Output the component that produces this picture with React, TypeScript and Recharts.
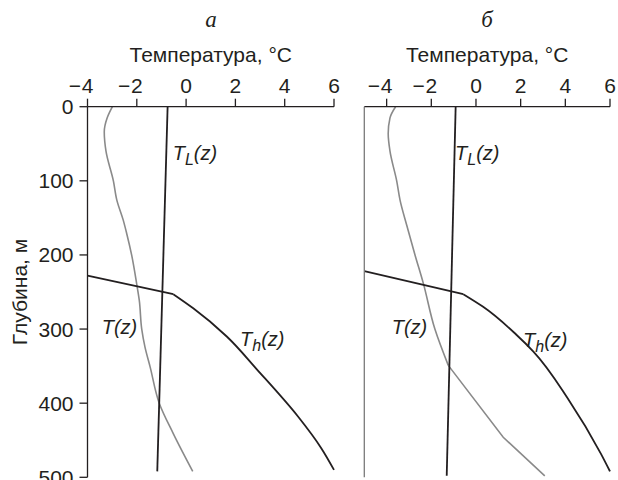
import { LineChart, Line, XAxis, YAxis } from "recharts"

// depth (m) is on the vertical axis, temperature (°C) on the top axis
const depthTicks = [0, 100, 200, 300, 400, 500]
const tempTicks = [-4, -2, 0, 2, 4, 6]

// panel а
const aLDepth = [0, 492]
const aLTemp = [-0.75, -1.17]
const aTDepth = [0, 15, 34, 60, 100, 126, 153, 171, 200, 240, 261, 300, 324, 351, 400, 441, 492]
const aTTemp = [-2.99, -3.2, -3.32, -3.25, -2.95, -2.81, -2.55, -2.41, -2.21, -2.0, -1.9, -1.8, -1.67, -1.46, -1.09, -0.52, 0.27]
const aH1Depth = [228, 253]
const aH1Temp = [-4, -0.52]
const aH2Depth = [253, 272, 310, 354, 418, 461, 490]
const aH2Temp = [-0.52, 0.29, 1.65, 2.86, 4.54, 5.49, 6.0]

// panel б
const bLDepth = [0, 498]
const bLTemp = [-0.91, -1.31]
const bT1Depth = [0, 15, 36, 60, 100, 126, 160, 200, 238, 300, 349]
const bT1Temp = [-3.6, -3.85, -3.93, -3.85, -3.55, -3.4, -3.1, -2.73, -2.36, -1.84, -1.24]
const bT2Depth = [349, 446, 498]
const bT2Temp = [-1.24, 1.22, 3.08]
const bH1Depth = [222, 253]
const bH1Temp = [-5, -0.57]
const bH2Depth = [253, 270, 308, 330, 396, 468, 492]
const bH2Temp = [-0.57, 0.32, 1.82, 2.56, 4.16, 5.59, 6.0]

const zip = (d: number[], t: number[]) => d.map((depth, i) => ({ depth, t: t[i] }))

const FONT = "'Liberation Sans', Arial, sans-serif"
const INK = "#231f20"
const GRAY = "#8a8a8a"
const tickStyle = { fill: INK, fontSize: 21, fontFamily: FONT }

// digit sits centred on the tick, the minus hangs to the left of it
function TempTick({ x, y, payload }: any) {
  const v = payload.value as number
  return (
    <g fill={INK} fontSize={21} fontFamily={FONT}>
      <text x={x} y={y} textAnchor="middle">{Math.abs(v)}</text>
      {v < 0 && (
        <text x={x - 6.5} y={y} textAnchor="end">{"\u2212"}</text>
      )}
    </g>
  )
}

function Curve({ data, color, kind = "monotone" }: any) {
  return (
    <Line
      data={data}
      dataKey="t"
      type={kind}
      stroke={color}
      strokeWidth={color === GRAY ? 1.6 : 1.8}
      dot={false}
      activeDot={false}
      isAnimationActive={false}
    />
  )
}

export default function App() {
  const xLabel = {
    value: "Температура, °С",
    position: "insideTop" as const,
    offset: 47,
    fill: INK,
    fontSize: 21,
    fontFamily: FONT,
  }

  return (
    <div style={{ position: "absolute", left: 0, top: 0, width: 618, height: 480, background: "#fff" }}>
      <div style={{ position: "absolute", left: 0, top: 0 }}>
        <LineChart
          layout="vertical"
          width={346}
          height={480}
          margin={{ top: 0, right: 12, bottom: 2.7, left: 0 }}
        >
          <XAxis
            type="number"
            orientation="top"
            domain={[-4, 6]}
            ticks={tempTicks}
            interval={0}
            height={106.7}
            tickSize={8}
            tickMargin={6}
            stroke={INK}
            strokeWidth={1.3}
            tick={<TempTick />}
            label={xLabel}
          />
          <YAxis
            type="number"
            dataKey="depth"
            domain={[0, 500]}
            ticks={depthTicks}
            interval={0}
            width={87.5}
            tickSize={8}
            tickMargin={6}
            stroke={INK}
            strokeWidth={1.3}
            tick={tickStyle}
            label={{
              value: "Глубина, м",
              angle: -90,
              position: "center",
              dx: -24.3,
              fill: INK,
              fontSize: 21,
              fontFamily: FONT,
            }}
          />
          <Curve data={zip(aTDepth, aTTemp)} color={GRAY} />
          <Curve data={zip(aLDepth, aLTemp)} color={INK} kind="linear" />
          <Curve data={zip(aH1Depth, aH1Temp)} color={INK} kind="linear" />
          <Curve data={zip(aH2Depth, aH2Temp)} color={INK} />
        </LineChart>
      </div>

      <div style={{ position: "absolute", left: 346, top: 0 }}>
        <LineChart
          layout="vertical"
          width={272}
          height={480}
          margin={{ top: 0, right: 8, bottom: 2.7, left: 0 }}
        >
          <XAxis
            type="number"
            orientation="top"
            domain={[-5, 6]}
            ticks={tempTicks}
            interval={0}
            height={106.7}
            tickSize={8}
            tickMargin={6}
            stroke={INK}
            strokeWidth={1.3}
            tick={<TempTick />}
            label={xLabel}
          />
          <YAxis
            type="number"
            dataKey="depth"
            domain={[0, 500]}
            ticks={depthTicks}
            interval={0}
            width={18.3}
            tickSize={8}
            tick={false}
            stroke="#7a7a7a"
            strokeWidth={1.3}
          />
          <Curve data={zip(bT1Depth, bT1Temp)} color={GRAY} />
          <Curve data={zip(bT2Depth, bT2Temp)} color={GRAY} kind="linear" />
          <Curve data={zip(bLDepth, bLTemp)} color={INK} kind="linear" />
          <Curve data={zip(bH1Depth, bH1Temp)} color={INK} kind="linear" />
          <Curve data={zip(bH2Depth, bH2Temp)} color={INK} />
        </LineChart>
      </div>

      {/* panel letters and curve names */}
      <svg
        width={618}
        height={480}
        style={{ position: "absolute", left: 0, top: 0, pointerEvents: "none" }}
        fontFamily={FONT}
        fill={INK}
      >
        <g fontFamily="'Liberation Serif', 'DejaVu Serif', serif" fontStyle="italic" fontSize={23} textAnchor="middle">
          <text x={211} y={27}>а</text>
          <text x={487} y={27}>б</text>
        </g>
        <g fontStyle="italic" fontSize={20}>
          <text x={172.7} y={159.5}>
            T<tspan fontSize={16} dy={5}>L</tspan>
            <tspan dy={-5}>(z)</tspan>
          </text>
          <text x={455} y={159.5}>
            T<tspan fontSize={16} dy={5}>L</tspan>
            <tspan dy={-5}>(z)</tspan>
          </text>
          <text x={101.7} y={334}>T(z)</text>
          <text x={391.7} y={334}>T(z)</text>
          <text x={240} y={345.5}>
            T<tspan fontSize={16} dy={5}>h</tspan>
            <tspan dy={-5}>(z)</tspan>
          </text>
          <text x={523} y={346.5}>
            T<tspan fontSize={16} dy={5}>h</tspan>
            <tspan dy={-5}>(z)</tspan>
          </text>
        </g>
      </svg>
    </div>
  )
}
